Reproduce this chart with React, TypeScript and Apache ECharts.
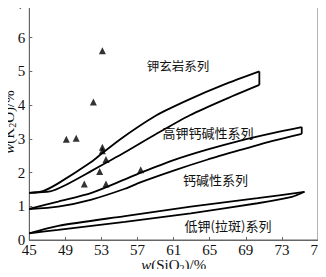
import React, { useEffect, useRef } from "react";
import * as echarts from "echarts";

// x-axis (SiO2, %) and y-axis (K2O, %) ranges
const xTicks = [45, 49, 53, 57, 61, 65, 69, 73, 77];
const yTicks = [0, 1, 2, 3, 4, 5, 6, 7];

// Boundary bands (upper edge and lower edge), [SiO2, K2O]
const band1Upper = [
  [45, 1.4], [46.5, 1.45], [48.2, 1.68], [51.9, 2.32], [53.1, 2.58],
  [55.4, 3.05], [59.1, 3.7], [62.8, 4.18], [66.5, 4.6], [70.5, 5.0],
];
const band1Lower = [
  [45, 1.4], [47.3, 1.44], [48.8, 1.6], [51.9, 2.05], [55.6, 2.6],
  [59.1, 3.15], [62.8, 3.7], [66.5, 4.15], [70.5, 4.6],
];
const band2Upper = [
  [45, 0.92], [48.2, 1.14], [51.9, 1.4], [55.6, 1.8], [57.3, 1.99],
  [61, 2.37], [64.7, 2.68], [68.4, 2.95], [72.1, 3.18], [75.2, 3.35],
];
const band2Lower = [
  [45, 0.92], [48.2, 0.99], [51.9, 1.2], [55.6, 1.52], [57.3, 1.71],
  [61, 2.06], [64.7, 2.38], [68.4, 2.67], [72.1, 2.95], [75.2, 3.15],
];
const band3Upper = [
  [45, 0.2], [48.2, 0.42], [55.6, 0.71], [62.9, 0.99], [70.3, 1.24], [75.5, 1.43],
];
const band3Lower = [
  [45, 0.2], [48.2, 0.3], [55.6, 0.54], [62.9, 0.79], [70.3, 1.09], [74.1, 1.28], [75.5, 1.43],
];

// Sample points (triangles)
const samples = [
  [53.1, 5.61], [52.1, 4.09], [49.1, 2.99], [50.2, 3.02], [53.1, 2.75],
  [53.1, 2.65], [53.5, 2.39], [52.8, 2.03], [57.35, 2.08], [51.1, 1.66], [53.5, 1.66],
];

// Field labels
const fieldLabels = [
  { text: "钾玄岩系列", x: 178, y: 65, size: 12.5 },
  { text: "高钾钙碱性系列", x: 208, y: 132.5, size: 13 },
  { text: "钙碱性系列", x: 215.5, y: 179, size: 13 },
  { text: "低钾(拉斑)系列", x: 228, y: 225, size: 13 },
];

const serif = "'Liberation Serif', 'Noto Sans CJK SC', serif";
const cjk = "'Noto Sans CJK SC', 'Liberation Serif', serif";

export default function App() {
  const ref = useRef<HTMLDivElement>(null);
  useEffect(() => {
    if (!ref.current) return;
    const chart = echarts.init(ref.current, null, { renderer: "svg" });
    const lineStyle = { color: "#000", width: 1.8 };
    const mk = (d: number[][], smooth: number) => ({
      type: "line",
      data: d,
      showSymbol: false,
      symbol: "none",
      smooth,
      lineStyle,
      silent: true,
    });
    const bands = [
      [band1Upper, band1Lower],
      [band2Upper, band2Lower],
      [band3Upper, band3Lower],
    ];
    const bandSeries: any[] = [];
    bands.forEach(([u, l]) => {
      bandSeries.push(mk(u, 0.25));
      bandSeries.push(mk(l, 0.25));
      bandSeries.push(mk([u[u.length - 1], l[l.length - 1]], 0));
    });
    const nameRich = {
      i: { fontStyle: "italic", fontSize: 15, fontFamily: serif, color: "#111", lineHeight: 16 },
      n: { fontSize: 15, fontFamily: serif, color: "#111", lineHeight: 16 },
      s: { fontSize: 10, fontFamily: serif, color: "#111", lineHeight: 10, verticalAlign: "bottom" },
    };
    chart.setOption({
      animation: false,
      backgroundColor: "#fff",
      grid: {
        left: 29.3,
        right: 8,
        top: 4,
        bottom: 37,
        show: true,
        borderColor: "#666",
        borderWidth: 1,
        outerBoundsMode: "none",
        containLabel: false,
      },
      xAxis: {
        type: "value",
        min: xTicks[0],
        max: xTicks[xTicks.length - 1],
        interval: 4,
        axisLine: { lineStyle: { color: "#666" } },
        axisTick: { inside: true, length: 3, lineStyle: { color: "#666" } },
        splitLine: { show: false },
        axisLabel: {
          color: "#111", fontSize: 15, fontFamily: serif, margin: 2,
          hideOverlap: false, showMinLabel: true, showMaxLabel: true,
        },
        name: "{i|w}{n|(SiO}{s|2}{n|)/%}",
        nameLocation: "middle",
        nameGap: 17,
        nameMoveOverlap: false,
        nameTextStyle: { color: "#111", fontSize: 15, fontFamily: serif, lineHeight: 16, rich: nameRich },
      },
      yAxis: {
        type: "value",
        min: yTicks[0],
        max: yTicks[yTicks.length - 1],
        interval: 1,
        axisLine: { lineStyle: { color: "#666" } },
        axisTick: { inside: true, length: 3, lineStyle: { color: "#666" } },
        splitLine: { show: false },
        axisLabel: {
          color: "#111", fontSize: 15, fontFamily: serif, margin: 4,
          hideOverlap: false, showMinLabel: true, showMaxLabel: true,
        },
        name: "{i|w}{n|(K}{s|2}{n|O)/%}",
        nameLocation: "middle",
        nameRotate: 90,
        nameGap: 12,
        nameMoveOverlap: false,
        nameTextStyle: { color: "#111", fontSize: 15, fontFamily: serif, lineHeight: 16, rich: nameRich },
      },
      series: [
        ...bandSeries,
        {
          type: "scatter",
          data: samples,
          symbol: "triangle",
          symbolSize: 7,
          itemStyle: { color: "#000" },
        },
      ],
      graphic: fieldLabels.map((l) => ({
        type: "text",
        x: l.x,
        y: l.y,
        style: {
          text: l.text,
          fontSize: l.size,
          fontFamily: cjk,
          fill: "#111",
          align: "center",
          verticalAlign: "middle",
        },
      })),
    });
    return () => chart.dispose();
  }, []);
  return <div ref={ref} style={{ width: 326, height: 277, margin: "-8px" }} />;
}
